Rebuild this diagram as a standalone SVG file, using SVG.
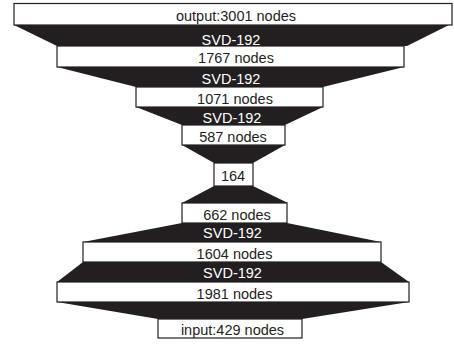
<svg xmlns="http://www.w3.org/2000/svg" width="454" height="345" viewBox="0 0 454 345">
<style>
.box{fill:#fff;stroke:#231f20;stroke-width:1.2}
.trap{fill:#231f20;stroke:none}
.t{font-family:"Liberation Sans",Arial,sans-serif;font-size:14.5px;fill:#231f20;text-anchor:middle}
.w{font-family:"Liberation Sans",Arial,sans-serif;font-size:14.5px;fill:#fff;text-anchor:middle}
</style>
<rect width="454" height="345" fill="#fff"/>
<g id="connectors">
<polygon class="trap" points="14,25 449,25 407,46 57,46"/>
<text class="w" x="231" y="45">SVD-192</text>
<polygon class="trap" points="57,67 404,67 323,87 136,87"/>
<text class="w" x="231" y="84">SVD-192</text>
<polygon class="trap" points="136,107 323,107 285,125 182,125"/>
<text class="w" x="232" y="123">SVD-192</text>
<polygon class="trap" points="182,145 285,145 253,163 214,163"/>
<polygon class="trap" points="214,186 253,186 288,203 182,203"/>
<polygon class="trap" points="182,223 287,223 381,242 83,242"/>
<text class="w" x="232.5" y="238">SVD-192</text>
<polygon class="trap" points="83,262 381,262 409,282 57,282"/>
<text class="w" x="232.5" y="278">SVD-192</text>
<polygon class="trap" points="57,302 409,302 302,319 158,319"/>
</g>
<g id="output"><rect class="box" x="14" y="3.5" width="438" height="21.5"/><text class="t" x="236" y="21">output:3001 nodes</text></g>
<g id="n1767"><rect class="box" x="57" y="46" width="347" height="21"/><text class="t" x="236" y="63">1767 nodes</text></g>
<g id="n1071"><rect class="box" x="136" y="87" width="187" height="20"/><text class="t" x="235" y="104">1071 nodes</text></g>
<g id="n587"><rect class="box" x="182" y="125" width="103" height="20"/><text class="t" x="233" y="142">587 nodes</text></g>
<g id="n164"><rect class="box" x="214" y="163" width="39" height="23"/><text class="t" x="233" y="181">164</text></g>
<g id="n662"><rect class="box" x="182" y="203" width="105" height="20"/><text class="t" x="237" y="220">662 nodes</text></g>
<g id="n1604"><rect class="box" x="83" y="242" width="298" height="20"/><text class="t" x="234.5" y="259">1604 nodes</text></g>
<g id="n1981"><rect class="box" x="57" y="282" width="352" height="20"/><text class="t" x="234.5" y="299">1981 nodes</text></g>
<g id="input"><rect class="box" x="158" y="319" width="144" height="19"/><text class="t" x="232.5" y="335">input:429 nodes</text></g>
</svg>
